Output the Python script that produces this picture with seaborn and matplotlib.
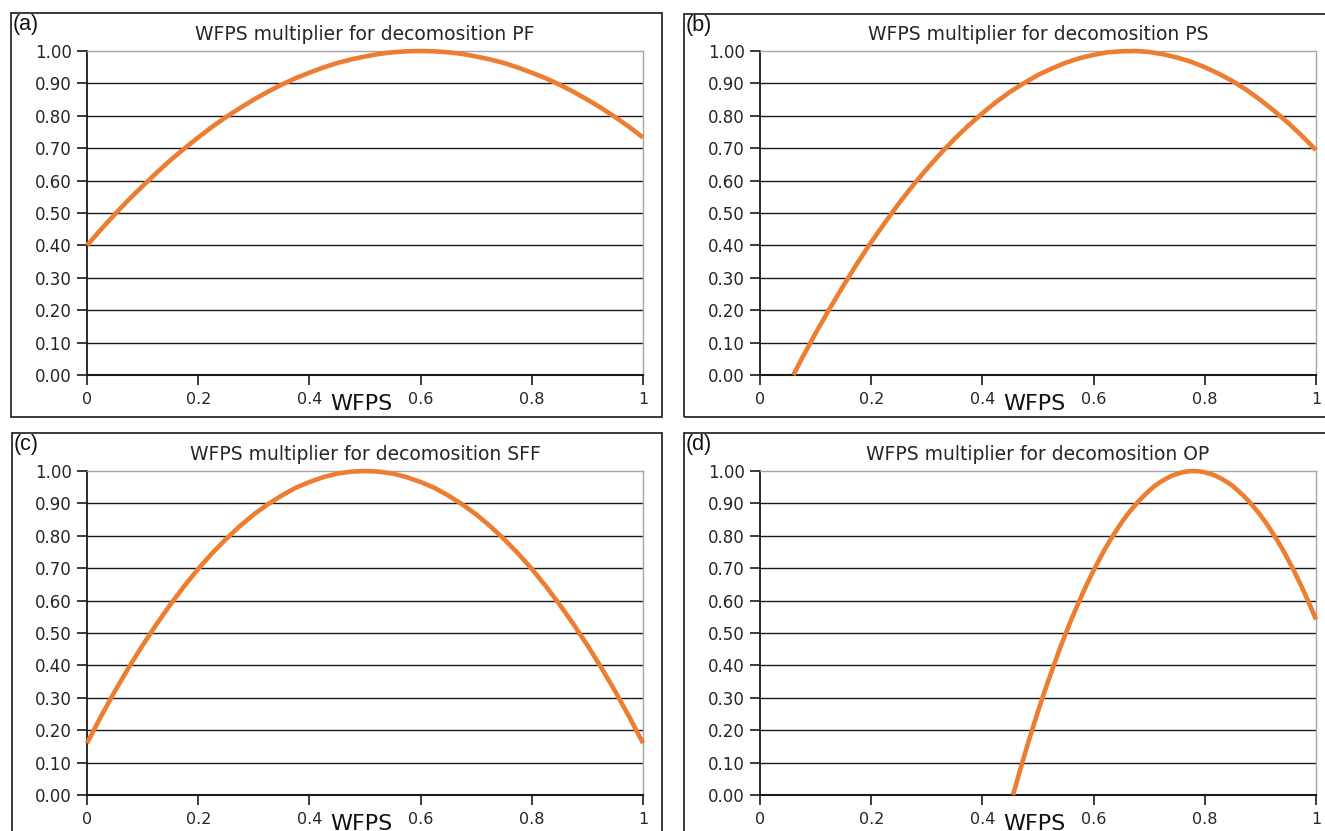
import matplotlib
matplotlib.use("Agg")
import matplotlib.pyplot as plt
import seaborn as sns
import pandas as pd
from matplotlib.patches import Rectangle

# ---------------- data ----------------
x_pf = [0.000, 0.025, 0.050, 0.075, 0.100, 0.125, 0.150, 0.175, 0.200, 0.225,
        0.250, 0.275, 0.300, 0.325, 0.350, 0.375, 0.400, 0.425, 0.450, 0.475,
        0.500, 0.525, 0.550, 0.575, 0.600, 0.625, 0.650, 0.675, 0.700, 0.725,
        0.750, 0.775, 0.800, 0.825, 0.850, 0.875, 0.900, 0.925, 0.950, 0.975, 1.000]
y_pf = [0.400, 0.449, 0.496, 0.541, 0.583, 0.624, 0.663, 0.699, 0.733, 0.766,
        0.796, 0.824, 0.850, 0.874, 0.896, 0.916, 0.933, 0.949, 0.963, 0.974,
        0.983, 0.991, 0.996, 0.999, 1.000, 0.999, 0.996, 0.991, 0.983, 0.974,
        0.963, 0.949, 0.933, 0.916, 0.896, 0.874, 0.850, 0.824, 0.796, 0.766, 0.733]

x_ps = [0.060, 0.075, 0.100, 0.125, 0.150, 0.175, 0.200, 0.225, 0.250, 0.275,
        0.300, 0.325, 0.350, 0.375, 0.400, 0.425, 0.450, 0.475, 0.500, 0.525,
        0.550, 0.575, 0.600, 0.625, 0.650, 0.675, 0.700, 0.725, 0.750, 0.775,
        0.800, 0.825, 0.850, 0.875, 0.900, 0.925, 0.950, 0.975, 1.000]
y_ps = [0.000, 0.050, 0.129, 0.204, 0.276, 0.345, 0.410, 0.471, 0.530, 0.585,
        0.636, 0.684, 0.729, 0.770, 0.808, 0.843, 0.874, 0.901, 0.926, 0.946,
        0.964, 0.978, 0.988, 0.996, 0.999, 1.000, 0.997, 0.990, 0.980, 0.967,
        0.950, 0.930, 0.907, 0.880, 0.849, 0.815, 0.778, 0.738, 0.694]

x_sff = [0.000, 0.025, 0.050, 0.075, 0.100, 0.125, 0.150, 0.175, 0.200, 0.225,
         0.250, 0.275, 0.300, 0.325, 0.350, 0.375, 0.400, 0.425, 0.450, 0.475,
         0.500, 0.525, 0.550, 0.575, 0.600, 0.625, 0.650, 0.675, 0.700, 0.725,
         0.750, 0.775, 0.800, 0.825, 0.850, 0.875, 0.900, 0.925, 0.950, 0.975, 1.000]
y_sff = [0.160, 0.242, 0.320, 0.393, 0.462, 0.527, 0.588, 0.645, 0.698, 0.746,
         0.790, 0.830, 0.866, 0.897, 0.924, 0.948, 0.966, 0.981, 0.992, 0.998,
         1.000, 0.998, 0.992, 0.981, 0.966, 0.948, 0.924, 0.897, 0.866, 0.830,
         0.790, 0.746, 0.698, 0.645, 0.588, 0.527, 0.462, 0.393, 0.320, 0.242, 0.160]

x_op = [0.455, 0.46, 0.47, 0.48, 0.49, 0.50, 0.51, 0.52, 0.53, 0.54, 0.55,
        0.56, 0.57, 0.58, 0.59, 0.60, 0.61, 0.62, 0.63, 0.64, 0.65,
        0.66, 0.67, 0.68, 0.69, 0.70, 0.71, 0.72, 0.73, 0.74, 0.75,
        0.76, 0.77, 0.78, 0.79, 0.80, 0.81, 0.82, 0.83, 0.84, 0.85,
        0.86, 0.87, 0.88, 0.89, 0.90, 0.91, 0.92, 0.93, 0.94, 0.95,
        0.96, 0.97, 0.98, 0.99, 1.00]
y_op = [0.000, 0.030, 0.090, 0.148, 0.204, 0.258, 0.310, 0.360, 0.408, 0.455, 0.499,
        0.542, 0.582, 0.621, 0.658, 0.693, 0.726, 0.758, 0.787, 0.814, 0.840,
        0.864, 0.885, 0.905, 0.923, 0.939, 0.954, 0.966, 0.976, 0.985, 0.991,
        0.996, 0.999, 1.000, 0.999, 0.996, 0.991, 0.985, 0.976, 0.966, 0.954,
        0.939, 0.923, 0.905, 0.885, 0.864, 0.840, 0.814, 0.787, 0.758, 0.726,
        0.693, 0.658, 0.621, 0.582, 0.542]

panel_letters = ["(a)", "(b)", "(c)", "(d)"]
titles = ["WFPS multiplier for decomosition PF",
          "WFPS multiplier for decomosition PS",
          "WFPS multiplier for decomosition SFF",
          "WFPS multiplier for decomosition OP"]
x_ticks = [0, 0.2, 0.4, 0.6, 0.8, 1.0]
x_tick_labels = ["0", "0.2", "0.4", "0.6", "0.8", "1"]
y_ticks = [0.0, 0.1, 0.2, 0.3, 0.4, 0.5, 0.6, 0.7, 0.8, 0.9, 1.0]
y_tick_labels = ["0.00", "0.10", "0.20", "0.30", "0.40", "0.50",
                 "0.60", "0.70", "0.80", "0.90", "1.00"]
x_label = "WFPS"

series = [(x_pf, y_pf), (x_ps, y_ps), (x_sff, y_sff), (x_op, y_op)]

# ---------------- figure ----------------
sns.set_style("white")
plt.rcParams['font.family'] = ['DejaVu Sans']

W, H = 1325, 831
fig = plt.figure(figsize=(W / 100, H / 100), dpi=100)

# pixel layout: (axes left, right, top, bottom), (frame left, right, top, bottom)
layout = [
    ((87, 643, 51, 375), (11, 662, 13, 417)),
    ((760, 1316, 51, 375), (684, 1335, 14, 417)),
    ((87, 643, 471, 795), (12, 662, 433, 840)),
    ((760, 1316, 471, 795), (684, 1335, 433, 840)),
]

LINE_COLOR = "#ED7D31"
TEXT_COLOR = "#262626"

for i, ((l, r, t, b), (fl, fr, ft, fb)) in enumerate(layout):
    # frame around the panel
    fig.patches.append(Rectangle((fl / W, 1 - fb / H), (fr - fl) / W, (fb - ft) / H,
                                 transform=fig.transFigure, fill=False,
                                 edgecolor="#1a1a1a", lw=1.2, zorder=0))
    ax = fig.add_axes([l / W, 1 - b / H, (r - l) / W, (b - t) / H])
    xs, ys = series[i]
    df = pd.DataFrame({"WFPS": xs, "mult": ys})
    sns.lineplot(data=df, x="WFPS", y="mult", ax=ax, color=LINE_COLOR,
                 lw=3.3, sort=True, estimator=None, zorder=5)
    for ln in ax.lines:
        ln.set_clip_on(False)
        ln.set_solid_capstyle("butt")
        ln.set_solid_joinstyle("round")

    ax.set_xlim(0, 1)
    ax.set_ylim(0, 1)
    ax.set_xticks(x_ticks)
    ax.set_xticklabels(x_tick_labels)
    ax.set_yticks(y_ticks)
    ax.set_yticklabels(y_tick_labels)
    ax.set_xlabel("")
    ax.set_ylabel("")

    ax.yaxis.grid(True, color="#1a1a1a", lw=1.0)
    ax.xaxis.grid(False)
    ax.get_ygridlines()[-1].set_visible(False)
    ax.get_ygridlines()[0].set_visible(False)
    ax.set_axisbelow(True)

    for side in ["top", "right"]:
        ax.spines[side].set_visible(True)
        ax.spines[side].set_color("#a6a6a6")
        ax.spines[side].set_linewidth(1.0)
    ax.spines["left"].set_color("#1a1a1a")
    ax.spines["left"].set_linewidth(1.3)
    ax.spines["bottom"].set_color("#1a1a1a")
    ax.spines["bottom"].set_linewidth(1.5)

    ax.tick_params(axis="y", direction="out", length=7, width=1.2, color="#1a1a1a",
                   labelsize=12, labelcolor=TEXT_COLOR, pad=4, left=True)
    ax.tick_params(axis="x", direction="out", length=7, width=1.2, color="#1a1a1a",
                   labelsize=11.5, labelcolor=TEXT_COLOR, pad=5, bottom=True)

    ax.set_title(titles[i], fontsize=13.5, color=TEXT_COLOR, pad=8)
    ax.text(0.493, -0.088, x_label, transform=ax.transAxes, ha="center", va="center",
            fontsize=16, color="#111111")

    fig.text((fl + 2) / W, 1 - (ft + 1) / H, panel_letters[i], ha="left", va="top",
             fontsize=15.5, family="Liberation Sans", color="#111111")

fig.savefig("out.png", dpi=100)
